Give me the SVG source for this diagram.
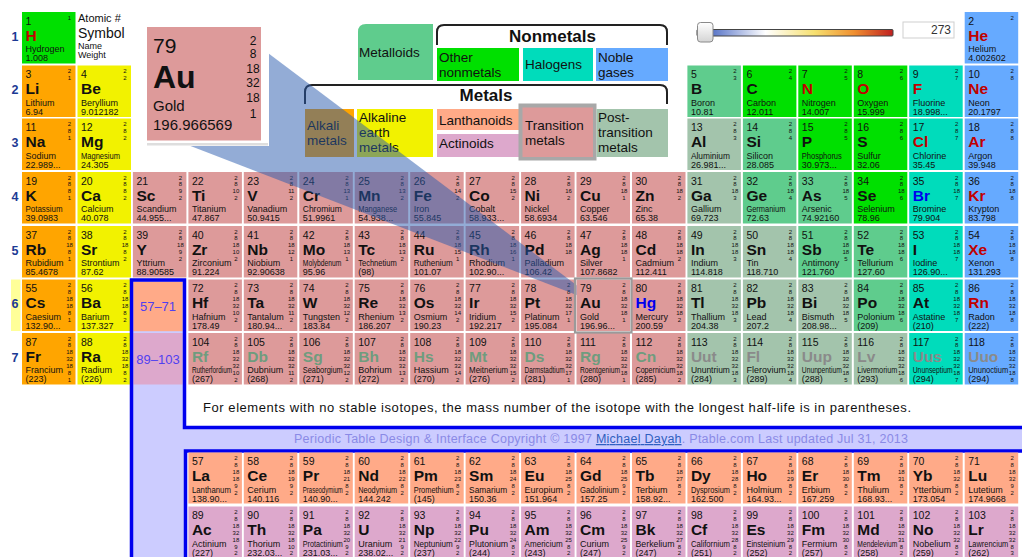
<svg xmlns="http://www.w3.org/2000/svg" width="1022" height="557" viewBox="0 0 1022 557">
<style>
text{font-family:"Liberation Sans",Arial,Helvetica,sans-serif;fill:#111}
.n{font-size:10.5px}
.s{font-size:15.5px;font-weight:bold}
.m,.w{font-size:9px}
.sh{font-size:6px;text-anchor:middle}
.am{fill:#ffa500}.ae{fill:#f2f200}.tm{fill:#dd9a9a}.pt{fill:#a3c4ac}.ml{fill:#5fcc8d}.nm{fill:#00e000}.hl{fill:#00dcbb}.ng{fill:#66aaff}.ln{fill:#ffaa88}.ac{fill:#dda8cc}
text.g{fill:#c00000}text.l{fill:#0000ee}text.u{fill:#6f9c7e}text.v{fill:#8a8a8a}
.lg{font-size:13.5px}
.hd{font-size:17px;font-weight:bold}
.rn{font-size:12.5px;font-weight:bold;fill:#1c3a94;text-anchor:middle}
.br{fill:none;stroke:#222;stroke-width:2}
.bl{fill:none;stroke:#0000ee;stroke-width:3.5}
.rg{font-size:13px;fill:#5040f0;text-anchor:middle}
</style>
<defs>
<linearGradient id="trk" x1="0" x2="1" y1="0" y2="0">
<stop offset="0" stop-color="#2a4db0"/><stop offset="0.1" stop-color="#6680cc"/><stop offset="0.35" stop-color="#ffffff"/><stop offset="0.6" stop-color="#f6e070"/><stop offset="0.8" stop-color="#f09030"/><stop offset="1" stop-color="#c02020"/>
</linearGradient>
<linearGradient id="knb" x1="0" x2="0" y1="0" y2="1"><stop offset="0" stop-color="#ffffff"/><stop offset="1" stop-color="#d4d4d4"/></linearGradient>
</defs>
<rect width="1022" height="557" fill="#fff"/>

<g id="row-labels">
<rect x="11" y="279.5" width="9.5" height="51.5" fill="#ffff99"/>
<text class="rn" x="15" y="40.5">1</text>
<text class="rn" x="15" y="94">2</text>
<text class="rn" x="15" y="147">3</text>
<text class="rn" x="15" y="200.5">4</text>
<text class="rn" x="15" y="254.5">5</text>
<text class="rn" x="15" y="308">6</text>
<text class="rn" x="15" y="361.5">7</text>
</g>

<g id="key">
<text x="78" y="21.5" style="font-size:11px">Atomic #</text>
<text x="78" y="37.5" style="font-size:14px">Symbol</text>
<text x="78" y="48.5" style="font-size:9px">Name</text>
<text x="78" y="58" style="font-size:9px">Weight</text>
</g>

<g id="legend">
<path class="ml" d="M366,24H433V80H358V32Q358,24 366,24Z"/>
<text class="lg" x="359" y="56.5">Metalloids</text>
<path class="br" d="M437,45V32Q437,25 444,25H660Q667,25 667,32V45"/>
<text class="hd" x="552.5" y="41.5" text-anchor="middle">Nonmetals</text>
<rect class="nm" x="437" y="48" width="82" height="33"/>
<text class="lg" x="439" y="61.5">Other</text><text class="lg" x="439" y="76.5">nonmetals</text>
<rect class="hl" x="523" y="48" width="70" height="33"/>
<text class="lg" x="525" y="68.5">Halogens</text>
<rect class="ng" x="596" y="48" width="72" height="33"/>
<text class="lg" x="598" y="61.5">Noble</text><text class="lg" x="598" y="76.5">gases</text>
<path class="br" d="M305,104V92Q305,85 312,85H660Q667,85 667,92V104"/>
<text class="hd" x="486" y="101" text-anchor="middle">Metals</text>
<rect class="am" x="305" y="109" width="49" height="48"/>
<text class="lg" x="307" y="130">Alkali</text><text class="lg" x="307" y="145">metals</text>
<rect class="ae" x="357" y="109" width="76" height="48"/>
<text class="lg" x="359" y="121.5">Alkaline</text><text class="lg" x="359" y="136.5">earth</text><text class="lg" x="359" y="151.5">metals</text>
<rect class="ln" x="437" y="109" width="82" height="21"/>
<text class="lg" x="439" y="125">Lanthanoids</text>
<rect class="ac" x="437" y="134" width="82" height="23"/>
<text class="lg" x="439" y="148">Actinoids</text>
<rect x="518.5" y="103.5" width="78" height="57" fill="#a8a8a8"/>
<rect class="tm" x="522.5" y="107.5" width="70.5" height="49.5"/>
<text class="lg" x="525" y="130">Transition</text><text class="lg" x="525" y="145">metals</text>
<rect class="pt" x="596.5" y="109" width="71.5" height="48"/>
<text class="lg" x="598" y="121.5">Post-</text><text class="lg" x="598" y="136.5">transition</text><text class="lg" x="598" y="151.5">metals</text>
</g>

<g id="slider">
<rect x="697" y="29.5" width="196" height="6.5" rx="1" fill="url(#trk)" stroke="#444" stroke-width="1"/>
<rect x="697.5" y="22.5" width="15.5" height="19.5" rx="3" fill="url(#knb)" stroke="#8a8a8a" stroke-width="1"/>
<rect x="903" y="22" width="51" height="16" fill="#fff" stroke="#cfcfcf" stroke-width="1"/>
<text x="951" y="34" text-anchor="end" style="font-size:12px;fill:#333">273</text>
</g>

<g id="elements">
<g id="e1" transform="translate(22,12)"><rect class="nm" width="53.5" height="51.5"/><text class="n" x="3.5" y="12.5">1</text><text class="s g" x="3.5" y="28.5">H</text><text class="m" x="3.5" y="40">Hydrogen</text><text class="w" x="3.5" y="49">1.008</text><text class="sh" x="47.5" y="7.5">1</text></g>
<g id="e2" transform="translate(964.7,12)"><rect class="ng" width="53.5" height="51.5"/><text class="n" x="3.5" y="12.5">2</text><text class="s g" x="3.5" y="28.5">He</text><text class="m" x="3.5" y="40">Helium</text><text class="w" x="3.5" y="49">4.002602</text><text class="sh" x="47.5" y="7.5">2</text></g>

<g id="e3" transform="translate(22,65.5)"><rect class="am" width="53.5" height="51.5"/><text class="n" x="3.5" y="12.5">3</text><text class="s" x="3.5" y="28.5">Li</text><text class="m" x="3.5" y="40">Lithium</text><text class="w" x="3.5" y="49">6.94</text><text class="sh" x="47.5" y="7.5">2<tspan x="47.5" dy="6.9">1</tspan></text></g>
<g id="e4" transform="translate(77.5,65.5)"><rect class="ae" width="53.5" height="51.5"/><text class="n" x="3.5" y="12.5">4</text><text class="s" x="3.5" y="28.5">Be</text><text class="m" x="3.5" y="40">Beryllium</text><text class="w" x="3.5" y="49">9.012182</text><text class="sh" x="47.5" y="7.5">2<tspan x="47.5" dy="6.9">2</tspan></text></g>
<g id="e5" transform="translate(687.4,65.5)"><rect class="ml" width="53.5" height="51.5"/><text class="n" x="3.5" y="12.5">5</text><text class="s" x="3.5" y="28.5">B</text><text class="m" x="3.5" y="40">Boron</text><text class="w" x="3.5" y="49">10.81</text><text class="sh" x="47.5" y="7.5">2<tspan x="47.5" dy="6.9">3</tspan></text></g>
<g id="e6" transform="translate(742.9,65.5)"><rect class="nm" width="53.5" height="51.5"/><text class="n" x="3.5" y="12.5">6</text><text class="s" x="3.5" y="28.5">C</text><text class="m" x="3.5" y="40">Carbon</text><text class="w" x="3.5" y="49">12.011</text><text class="sh" x="47.5" y="7.5">2<tspan x="47.5" dy="6.9">4</tspan></text></g>
<g id="e7" transform="translate(798.3,65.5)"><rect class="nm" width="53.5" height="51.5"/><text class="n" x="3.5" y="12.5">7</text><text class="s g" x="3.5" y="28.5">N</text><text class="m" x="3.5" y="40">Nitrogen</text><text class="w" x="3.5" y="49">14.007</text><text class="sh" x="47.5" y="7.5">2<tspan x="47.5" dy="6.9">5</tspan></text></g>
<g id="e8" transform="translate(853.8,65.5)"><rect class="nm" width="53.5" height="51.5"/><text class="n" x="3.5" y="12.5">8</text><text class="s g" x="3.5" y="28.5">O</text><text class="m" x="3.5" y="40">Oxygen</text><text class="w" x="3.5" y="49">15.999</text><text class="sh" x="47.5" y="7.5">2<tspan x="47.5" dy="6.9">6</tspan></text></g>
<g id="e9" transform="translate(909.2,65.5)"><rect class="hl" width="53.5" height="51.5"/><text class="n" x="3.5" y="12.5">9</text><text class="s g" x="3.5" y="28.5">F</text><text class="m" x="3.5" y="40">Fluorine</text><text class="w" x="3.5" y="49">18.998...</text><text class="sh" x="47.5" y="7.5">2<tspan x="47.5" dy="6.9">7</tspan></text></g>
<g id="e10" transform="translate(964.7,65.5)"><rect class="ng" width="53.5" height="51.5"/><text class="n" x="3.5" y="12.5">10</text><text class="s g" x="3.5" y="28.5">Ne</text><text class="m" x="3.5" y="40">Neon</text><text class="w" x="3.5" y="49">20.1797</text><text class="sh" x="47.5" y="7.5">2<tspan x="47.5" dy="6.9">8</tspan></text></g>

<g id="e11" transform="translate(22,118.5)"><rect class="am" width="53.5" height="51.5"/><text class="n" x="3.5" y="12.5">11</text><text class="s" x="3.5" y="28.5">Na</text><text class="m" x="3.5" y="40">Sodium</text><text class="w" x="3.5" y="49">22.989...</text><text class="sh" x="47.5" y="7.5">2<tspan x="47.5" dy="6.9">8</tspan><tspan x="47.5" dy="6.9">1</tspan></text></g>
<g id="e12" transform="translate(77.5,118.5)"><rect class="ae" width="53.5" height="51.5"/><text class="n" x="3.5" y="12.5">12</text><text class="s" x="3.5" y="28.5">Mg</text><text class="m" x="3.5" y="40" textLength="39" lengthAdjust="spacingAndGlyphs">Magnesium</text><text class="w" x="3.5" y="49">24.305</text><text class="sh" x="47.5" y="7.5">2<tspan x="47.5" dy="6.9">8</tspan><tspan x="47.5" dy="6.9">2</tspan></text></g>
<g id="e13" transform="translate(687.4,118.5)"><rect class="pt" width="53.5" height="51.5"/><text class="n" x="3.5" y="12.5">13</text><text class="s" x="3.5" y="28.5">Al</text><text class="m" x="3.5" y="40" textLength="39" lengthAdjust="spacingAndGlyphs">Aluminium</text><text class="w" x="3.5" y="49">26.981...</text><text class="sh" x="47.5" y="7.5">2<tspan x="47.5" dy="6.9">8</tspan><tspan x="47.5" dy="6.9">3</tspan></text></g>
<g id="e14" transform="translate(742.9,118.5)"><rect class="ml" width="53.5" height="51.5"/><text class="n" x="3.5" y="12.5">14</text><text class="s" x="3.5" y="28.5">Si</text><text class="m" x="3.5" y="40">Silicon</text><text class="w" x="3.5" y="49">28.085</text><text class="sh" x="47.5" y="7.5">2<tspan x="47.5" dy="6.9">8</tspan><tspan x="47.5" dy="6.9">4</tspan></text></g>
<g id="e15" transform="translate(798.3,118.5)"><rect class="nm" width="53.5" height="51.5"/><text class="n" x="3.5" y="12.5">15</text><text class="s" x="3.5" y="28.5">P</text><text class="m" x="3.5" y="40" textLength="40" lengthAdjust="spacingAndGlyphs">Phosphorus</text><text class="w" x="3.5" y="49">30.973...</text><text class="sh" x="47.5" y="7.5">2<tspan x="47.5" dy="6.9">8</tspan><tspan x="47.5" dy="6.9">5</tspan></text></g>
<g id="e16" transform="translate(853.8,118.5)"><rect class="nm" width="53.5" height="51.5"/><text class="n" x="3.5" y="12.5">16</text><text class="s" x="3.5" y="28.5">S</text><text class="m" x="3.5" y="40">Sulfur</text><text class="w" x="3.5" y="49">32.06</text><text class="sh" x="47.5" y="7.5">2<tspan x="47.5" dy="6.9">8</tspan><tspan x="47.5" dy="6.9">6</tspan></text></g>
<g id="e17" transform="translate(909.2,118.5)"><rect class="hl" width="53.5" height="51.5"/><text class="n" x="3.5" y="12.5">17</text><text class="s g" x="3.5" y="28.5">Cl</text><text class="m" x="3.5" y="40">Chlorine</text><text class="w" x="3.5" y="49">35.45</text><text class="sh" x="47.5" y="7.5">2<tspan x="47.5" dy="6.9">8</tspan><tspan x="47.5" dy="6.9">7</tspan></text></g>
<g id="e18" transform="translate(964.7,118.5)"><rect class="ng" width="53.5" height="51.5"/><text class="n" x="3.5" y="12.5">18</text><text class="s g" x="3.5" y="28.5">Ar</text><text class="m" x="3.5" y="40">Argon</text><text class="w" x="3.5" y="49">39.948</text><text class="sh" x="47.5" y="7.5">2<tspan x="47.5" dy="6.9">8</tspan><tspan x="47.5" dy="6.9">8</tspan></text></g>

<g id="e19" transform="translate(22,172)"><rect class="am" width="53.5" height="51.5"/><text class="n" x="3.5" y="12.5">19</text><text class="s" x="3.5" y="28.5">K</text><text class="m" x="3.5" y="40" textLength="37" lengthAdjust="spacingAndGlyphs">Potassium</text><text class="w" x="3.5" y="49">39.0983</text><text class="sh" x="47.5" y="7.5">2<tspan x="47.5" dy="6.9">8</tspan><tspan x="47.5" dy="6.9">8</tspan><tspan x="47.5" dy="6.9">1</tspan></text></g>
<g id="e20" transform="translate(77.5,172)"><rect class="ae" width="53.5" height="51.5"/><text class="n" x="3.5" y="12.5">20</text><text class="s" x="3.5" y="28.5">Ca</text><text class="m" x="3.5" y="40">Calcium</text><text class="w" x="3.5" y="49">40.078</text><text class="sh" x="47.5" y="7.5">2<tspan x="47.5" dy="6.9">8</tspan><tspan x="47.5" dy="6.9">8</tspan><tspan x="47.5" dy="6.9">2</tspan></text></g>
<g id="e21" transform="translate(132.9,172)"><rect class="tm" width="53.5" height="51.5"/><text class="n" x="3.5" y="12.5">21</text><text class="s" x="3.5" y="28.5">Sc</text><text class="m" x="3.5" y="40">Scandium</text><text class="w" x="3.5" y="49">44.955...</text><text class="sh" x="47.5" y="7.5">2<tspan x="47.5" dy="6.9">8</tspan><tspan x="47.5" dy="6.9">9</tspan><tspan x="47.5" dy="6.9">2</tspan></text></g>
<g id="e22" transform="translate(188.4,172)"><rect class="tm" width="53.5" height="51.5"/><text class="n" x="3.5" y="12.5">22</text><text class="s" x="3.5" y="28.5">Ti</text><text class="m" x="3.5" y="40">Titanium</text><text class="w" x="3.5" y="49">47.867</text><text class="sh" x="47.5" y="7.5">2<tspan x="47.5" dy="6.9">8</tspan><tspan x="47.5" dy="6.9">10</tspan><tspan x="47.5" dy="6.9">2</tspan></text></g>
<g id="e23" transform="translate(243.8,172)"><rect class="tm" width="53.5" height="51.5"/><text class="n" x="3.5" y="12.5">23</text><text class="s" x="3.5" y="28.5">V</text><text class="m" x="3.5" y="40">Vanadium</text><text class="w" x="3.5" y="49">50.9415</text><text class="sh" x="47.5" y="7.5">2<tspan x="47.5" dy="6.9">8</tspan><tspan x="47.5" dy="6.9">11</tspan><tspan x="47.5" dy="6.9">2</tspan></text></g>
<g id="e24" transform="translate(299.3,172)"><rect class="tm" width="53.5" height="51.5"/><text class="n" x="3.5" y="12.5">24</text><text class="s" x="3.5" y="28.5">Cr</text><text class="m" x="3.5" y="40" textLength="39" lengthAdjust="spacingAndGlyphs">Chromium</text><text class="w" x="3.5" y="49">51.9961</text><text class="sh" x="47.5" y="7.5">2<tspan x="47.5" dy="6.9">8</tspan><tspan x="47.5" dy="6.9">13</tspan><tspan x="47.5" dy="6.9">1</tspan></text></g>
<g id="e25" transform="translate(354.7,172)"><rect class="tm" width="53.5" height="51.5"/><text class="n" x="3.5" y="12.5">25</text><text class="s" x="3.5" y="28.5">Mn</text><text class="m" x="3.5" y="40" textLength="39" lengthAdjust="spacingAndGlyphs">Manganese</text><text class="w" x="3.5" y="49">54.938...</text><text class="sh" x="47.5" y="7.5">2<tspan x="47.5" dy="6.9">8</tspan><tspan x="47.5" dy="6.9">13</tspan><tspan x="47.5" dy="6.9">2</tspan></text></g>
<g id="e26" transform="translate(410.2,172)"><rect class="tm" width="53.5" height="51.5"/><text class="n" x="3.5" y="12.5">26</text><text class="s" x="3.5" y="28.5">Fe</text><text class="m" x="3.5" y="40">Iron</text><text class="w" x="3.5" y="49">55.845</text><text class="sh" x="47.5" y="7.5">2<tspan x="47.5" dy="6.9">8</tspan><tspan x="47.5" dy="6.9">14</tspan><tspan x="47.5" dy="6.9">2</tspan></text></g>
<g id="e27" transform="translate(465.6,172)"><rect class="tm" width="53.5" height="51.5"/><text class="n" x="3.5" y="12.5">27</text><text class="s" x="3.5" y="28.5">Co</text><text class="m" x="3.5" y="40">Cobalt</text><text class="w" x="3.5" y="49">58.933...</text><text class="sh" x="47.5" y="7.5">2<tspan x="47.5" dy="6.9">8</tspan><tspan x="47.5" dy="6.9">15</tspan><tspan x="47.5" dy="6.9">2</tspan></text></g>
<g id="e28" transform="translate(521.1,172)"><rect class="tm" width="53.5" height="51.5"/><text class="n" x="3.5" y="12.5">28</text><text class="s" x="3.5" y="28.5">Ni</text><text class="m" x="3.5" y="40">Nickel</text><text class="w" x="3.5" y="49">58.6934</text><text class="sh" x="47.5" y="7.5">2<tspan x="47.5" dy="6.9">8</tspan><tspan x="47.5" dy="6.9">16</tspan><tspan x="47.5" dy="6.9">2</tspan></text></g>
<g id="e29" transform="translate(576.5,172)"><rect class="tm" width="53.5" height="51.5"/><text class="n" x="3.5" y="12.5">29</text><text class="s" x="3.5" y="28.5">Cu</text><text class="m" x="3.5" y="40">Copper</text><text class="w" x="3.5" y="49">63.546</text><text class="sh" x="47.5" y="7.5">2<tspan x="47.5" dy="6.9">8</tspan><tspan x="47.5" dy="6.9">18</tspan><tspan x="47.5" dy="6.9">1</tspan></text></g>
<g id="e30" transform="translate(632,172)"><rect class="tm" width="53.5" height="51.5"/><text class="n" x="3.5" y="12.5">30</text><text class="s" x="3.5" y="28.5">Zn</text><text class="m" x="3.5" y="40">Zinc</text><text class="w" x="3.5" y="49">65.38</text><text class="sh" x="47.5" y="7.5">2<tspan x="47.5" dy="6.9">8</tspan><tspan x="47.5" dy="6.9">18</tspan><tspan x="47.5" dy="6.9">2</tspan></text></g>
<g id="e31" transform="translate(687.4,172)"><rect class="pt" width="53.5" height="51.5"/><text class="n" x="3.5" y="12.5">31</text><text class="s" x="3.5" y="28.5">Ga</text><text class="m" x="3.5" y="40">Gallium</text><text class="w" x="3.5" y="49">69.723</text><text class="sh" x="47.5" y="7.5">2<tspan x="47.5" dy="6.9">8</tspan><tspan x="47.5" dy="6.9">18</tspan><tspan x="47.5" dy="6.9">3</tspan></text></g>
<g id="e32" transform="translate(742.9,172)"><rect class="ml" width="53.5" height="51.5"/><text class="n" x="3.5" y="12.5">32</text><text class="s" x="3.5" y="28.5">Ge</text><text class="m" x="3.5" y="40" textLength="39" lengthAdjust="spacingAndGlyphs">Germanium</text><text class="w" x="3.5" y="49">72.63</text><text class="sh" x="47.5" y="7.5">2<tspan x="47.5" dy="6.9">8</tspan><tspan x="47.5" dy="6.9">18</tspan><tspan x="47.5" dy="6.9">4</tspan></text></g>
<g id="e33" transform="translate(798.3,172)"><rect class="ml" width="53.5" height="51.5"/><text class="n" x="3.5" y="12.5">33</text><text class="s" x="3.5" y="28.5">As</text><text class="m" x="3.5" y="40">Arsenic</text><text class="w" x="3.5" y="49">74.92160</text><text class="sh" x="47.5" y="7.5">2<tspan x="47.5" dy="6.9">8</tspan><tspan x="47.5" dy="6.9">18</tspan><tspan x="47.5" dy="6.9">5</tspan></text></g>
<g id="e34" transform="translate(853.8,172)"><rect class="nm" width="53.5" height="51.5"/><text class="n" x="3.5" y="12.5">34</text><text class="s" x="3.5" y="28.5">Se</text><text class="m" x="3.5" y="40">Selenium</text><text class="w" x="3.5" y="49">78.96</text><text class="sh" x="47.5" y="7.5">2<tspan x="47.5" dy="6.9">8</tspan><tspan x="47.5" dy="6.9">18</tspan><tspan x="47.5" dy="6.9">6</tspan></text></g>
<g id="e35" transform="translate(909.2,172)"><rect class="hl" width="53.5" height="51.5"/><text class="n" x="3.5" y="12.5">35</text><text class="s l" x="3.5" y="28.5">Br</text><text class="m" x="3.5" y="40">Bromine</text><text class="w" x="3.5" y="49">79.904</text><text class="sh" x="47.5" y="7.5">2<tspan x="47.5" dy="6.9">8</tspan><tspan x="47.5" dy="6.9">18</tspan><tspan x="47.5" dy="6.9">7</tspan></text></g>
<g id="e36" transform="translate(964.7,172)"><rect class="ng" width="53.5" height="51.5"/><text class="n" x="3.5" y="12.5">36</text><text class="s g" x="3.5" y="28.5">Kr</text><text class="m" x="3.5" y="40">Krypton</text><text class="w" x="3.5" y="49">83.798</text><text class="sh" x="47.5" y="7.5">2<tspan x="47.5" dy="6.9">8</tspan><tspan x="47.5" dy="6.9">18</tspan><tspan x="47.5" dy="6.9">8</tspan></text></g>

<g id="e37" transform="translate(22,226)"><rect class="am" width="53.5" height="51.5"/><text class="n" x="3.5" y="12.5">37</text><text class="s" x="3.5" y="28.5">Rb</text><text class="m" x="3.5" y="40">Rubidium</text><text class="w" x="3.5" y="49">85.4678</text><text class="sh" x="47.5" y="7.5">2<tspan x="47.5" dy="6.9">8</tspan><tspan x="47.5" dy="6.9">18</tspan><tspan x="47.5" dy="6.9">8</tspan><tspan x="47.5" dy="6.9">1</tspan></text></g>
<g id="e38" transform="translate(77.5,226)"><rect class="ae" width="53.5" height="51.5"/><text class="n" x="3.5" y="12.5">38</text><text class="s" x="3.5" y="28.5">Sr</text><text class="m" x="3.5" y="40">Strontium</text><text class="w" x="3.5" y="49">87.62</text><text class="sh" x="47.5" y="7.5">2<tspan x="47.5" dy="6.9">8</tspan><tspan x="47.5" dy="6.9">18</tspan><tspan x="47.5" dy="6.9">8</tspan><tspan x="47.5" dy="6.9">2</tspan></text></g>
<g id="e39" transform="translate(132.9,226)"><rect class="tm" width="53.5" height="51.5"/><text class="n" x="3.5" y="12.5">39</text><text class="s" x="3.5" y="28.5">Y</text><text class="m" x="3.5" y="40">Yttrium</text><text class="w" x="3.5" y="49">88.90585</text><text class="sh" x="47.5" y="7.5">2<tspan x="47.5" dy="6.9">8</tspan><tspan x="47.5" dy="6.9">18</tspan><tspan x="47.5" dy="6.9">9</tspan><tspan x="47.5" dy="6.9">2</tspan></text></g>
<g id="e40" transform="translate(188.4,226)"><rect class="tm" width="53.5" height="51.5"/><text class="n" x="3.5" y="12.5">40</text><text class="s" x="3.5" y="28.5">Zr</text><text class="m" x="3.5" y="40">Zirconium</text><text class="w" x="3.5" y="49">91.224</text><text class="sh" x="47.5" y="7.5">2<tspan x="47.5" dy="6.9">8</tspan><tspan x="47.5" dy="6.9">18</tspan><tspan x="47.5" dy="6.9">10</tspan><tspan x="47.5" dy="6.9">2</tspan></text></g>
<g id="e41" transform="translate(243.8,226)"><rect class="tm" width="53.5" height="51.5"/><text class="n" x="3.5" y="12.5">41</text><text class="s" x="3.5" y="28.5">Nb</text><text class="m" x="3.5" y="40">Niobium</text><text class="w" x="3.5" y="49">92.90638</text><text class="sh" x="47.5" y="7.5">2<tspan x="47.5" dy="6.9">8</tspan><tspan x="47.5" dy="6.9">18</tspan><tspan x="47.5" dy="6.9">12</tspan><tspan x="47.5" dy="6.9">1</tspan></text></g>
<g id="e42" transform="translate(299.3,226)"><rect class="tm" width="53.5" height="51.5"/><text class="n" x="3.5" y="12.5">42</text><text class="s" x="3.5" y="28.5">Mo</text><text class="m" x="3.5" y="40" textLength="38.5" lengthAdjust="spacingAndGlyphs">Molybdenum</text><text class="w" x="3.5" y="49">95.96</text><text class="sh" x="47.5" y="7.5">2<tspan x="47.5" dy="6.9">8</tspan><tspan x="47.5" dy="6.9">18</tspan><tspan x="47.5" dy="6.9">13</tspan><tspan x="47.5" dy="6.9">1</tspan></text></g>
<g id="e43" transform="translate(354.7,226)"><rect class="tm" width="53.5" height="51.5"/><text class="n" x="3.5" y="12.5">43</text><text class="s" x="3.5" y="28.5">Tc</text><text class="m" x="3.5" y="40" textLength="38.5" lengthAdjust="spacingAndGlyphs">Technetium</text><text class="w" x="3.5" y="49">(98)</text><text class="sh" x="47.5" y="7.5">2<tspan x="47.5" dy="6.9">8</tspan><tspan x="47.5" dy="6.9">18</tspan><tspan x="47.5" dy="6.9">13</tspan><tspan x="47.5" dy="6.9">2</tspan></text></g>
<g id="e44" transform="translate(410.2,226)"><rect class="tm" width="53.5" height="51.5"/><text class="n" x="3.5" y="12.5">44</text><text class="s" x="3.5" y="28.5">Ru</text><text class="m" x="3.5" y="40" textLength="39" lengthAdjust="spacingAndGlyphs">Ruthenium</text><text class="w" x="3.5" y="49">101.07</text><text class="sh" x="47.5" y="7.5">2<tspan x="47.5" dy="6.9">8</tspan><tspan x="47.5" dy="6.9">18</tspan><tspan x="47.5" dy="6.9">15</tspan><tspan x="47.5" dy="6.9">1</tspan></text></g>
<g id="e45" transform="translate(465.6,226)"><rect class="tm" width="53.5" height="51.5"/><text class="n" x="3.5" y="12.5">45</text><text class="s" x="3.5" y="28.5">Rh</text><text class="m" x="3.5" y="40">Rhodium</text><text class="w" x="3.5" y="49">102.90...</text><text class="sh" x="47.5" y="7.5">2<tspan x="47.5" dy="6.9">8</tspan><tspan x="47.5" dy="6.9">18</tspan><tspan x="47.5" dy="6.9">16</tspan><tspan x="47.5" dy="6.9">1</tspan></text></g>
<g id="e46" transform="translate(521.1,226)"><rect class="tm" width="53.5" height="51.5"/><text class="n" x="3.5" y="12.5">46</text><text class="s" x="3.5" y="28.5">Pd</text><text class="m" x="3.5" y="40">Palladium</text><text class="w" x="3.5" y="49">106.42</text><text class="sh" x="47.5" y="7.5">2<tspan x="47.5" dy="6.9">8</tspan><tspan x="47.5" dy="6.9">18</tspan><tspan x="47.5" dy="6.9">18</tspan></text></g>
<g id="e47" transform="translate(576.5,226)"><rect class="tm" width="53.5" height="51.5"/><text class="n" x="3.5" y="12.5">47</text><text class="s" x="3.5" y="28.5">Ag</text><text class="m" x="3.5" y="40">Silver</text><text class="w" x="3.5" y="49">107.8682</text><text class="sh" x="47.5" y="7.5">2<tspan x="47.5" dy="6.9">8</tspan><tspan x="47.5" dy="6.9">18</tspan><tspan x="47.5" dy="6.9">18</tspan><tspan x="47.5" dy="6.9">1</tspan></text></g>
<g id="e48" transform="translate(632,226)"><rect class="tm" width="53.5" height="51.5"/><text class="n" x="3.5" y="12.5">48</text><text class="s" x="3.5" y="28.5">Cd</text><text class="m" x="3.5" y="40">Cadmium</text><text class="w" x="3.5" y="49">112.411</text><text class="sh" x="47.5" y="7.5">2<tspan x="47.5" dy="6.9">8</tspan><tspan x="47.5" dy="6.9">18</tspan><tspan x="47.5" dy="6.9">18</tspan><tspan x="47.5" dy="6.9">2</tspan></text></g>
<g id="e49" transform="translate(687.4,226)"><rect class="pt" width="53.5" height="51.5"/><text class="n" x="3.5" y="12.5">49</text><text class="s" x="3.5" y="28.5">In</text><text class="m" x="3.5" y="40">Indium</text><text class="w" x="3.5" y="49">114.818</text><text class="sh" x="47.5" y="7.5">2<tspan x="47.5" dy="6.9">8</tspan><tspan x="47.5" dy="6.9">18</tspan><tspan x="47.5" dy="6.9">18</tspan><tspan x="47.5" dy="6.9">3</tspan></text></g>
<g id="e50" transform="translate(742.9,226)"><rect class="pt" width="53.5" height="51.5"/><text class="n" x="3.5" y="12.5">50</text><text class="s" x="3.5" y="28.5">Sn</text><text class="m" x="3.5" y="40">Tin</text><text class="w" x="3.5" y="49">118.710</text><text class="sh" x="47.5" y="7.5">2<tspan x="47.5" dy="6.9">8</tspan><tspan x="47.5" dy="6.9">18</tspan><tspan x="47.5" dy="6.9">18</tspan><tspan x="47.5" dy="6.9">4</tspan></text></g>
<g id="e51" transform="translate(798.3,226)"><rect class="ml" width="53.5" height="51.5"/><text class="n" x="3.5" y="12.5">51</text><text class="s" x="3.5" y="28.5">Sb</text><text class="m" x="3.5" y="40">Antimony</text><text class="w" x="3.5" y="49">121.760</text><text class="sh" x="47.5" y="7.5">2<tspan x="47.5" dy="6.9">8</tspan><tspan x="47.5" dy="6.9">18</tspan><tspan x="47.5" dy="6.9">18</tspan><tspan x="47.5" dy="6.9">5</tspan></text></g>
<g id="e52" transform="translate(853.8,226)"><rect class="ml" width="53.5" height="51.5"/><text class="n" x="3.5" y="12.5">52</text><text class="s" x="3.5" y="28.5">Te</text><text class="m" x="3.5" y="40">Tellurium</text><text class="w" x="3.5" y="49">127.60</text><text class="sh" x="47.5" y="7.5">2<tspan x="47.5" dy="6.9">8</tspan><tspan x="47.5" dy="6.9">18</tspan><tspan x="47.5" dy="6.9">18</tspan><tspan x="47.5" dy="6.9">6</tspan></text></g>
<g id="e53" transform="translate(909.2,226)"><rect class="hl" width="53.5" height="51.5"/><text class="n" x="3.5" y="12.5">53</text><text class="s" x="3.5" y="28.5">I</text><text class="m" x="3.5" y="40">Iodine</text><text class="w" x="3.5" y="49">126.90...</text><text class="sh" x="47.5" y="7.5">2<tspan x="47.5" dy="6.9">8</tspan><tspan x="47.5" dy="6.9">18</tspan><tspan x="47.5" dy="6.9">18</tspan><tspan x="47.5" dy="6.9">7</tspan></text></g>
<g id="e54" transform="translate(964.7,226)"><rect class="ng" width="53.5" height="51.5"/><text class="n" x="3.5" y="12.5">54</text><text class="s g" x="3.5" y="28.5">Xe</text><text class="m" x="3.5" y="40">Xenon</text><text class="w" x="3.5" y="49">131.293</text><text class="sh" x="47.5" y="7.5">2<tspan x="47.5" dy="6.9">8</tspan><tspan x="47.5" dy="6.9">18</tspan><tspan x="47.5" dy="6.9">18</tspan><tspan x="47.5" dy="6.9">8</tspan></text></g>

<g id="e55" transform="translate(22,279.5)"><rect class="am" width="53.5" height="51.5"/><text class="n" x="3.5" y="12.5">55</text><text class="s" x="3.5" y="28.5">Cs</text><text class="m" x="3.5" y="40">Caesium</text><text class="w" x="3.5" y="49">132.90...</text><text class="sh" x="47.5" y="7.5">2<tspan x="47.5" dy="6.9">8</tspan><tspan x="47.5" dy="6.9">18</tspan><tspan x="47.5" dy="6.9">18</tspan><tspan x="47.5" dy="6.9">8</tspan><tspan x="47.5" dy="6.9">1</tspan></text></g>
<g id="e56" transform="translate(77.5,279.5)"><rect class="ae" width="53.5" height="51.5"/><text class="n" x="3.5" y="12.5">56</text><text class="s" x="3.5" y="28.5">Ba</text><text class="m" x="3.5" y="40">Barium</text><text class="w" x="3.5" y="49">137.327</text><text class="sh" x="47.5" y="7.5">2<tspan x="47.5" dy="6.9">8</tspan><tspan x="47.5" dy="6.9">18</tspan><tspan x="47.5" dy="6.9">18</tspan><tspan x="47.5" dy="6.9">8</tspan><tspan x="47.5" dy="6.9">2</tspan></text></g>
<g id="e72" transform="translate(188.4,279.5)"><rect class="tm" width="53.5" height="51.5"/><text class="n" x="3.5" y="12.5">72</text><text class="s" x="3.5" y="28.5">Hf</text><text class="m" x="3.5" y="40">Hafnium</text><text class="w" x="3.5" y="49">178.49</text><text class="sh" x="47.5" y="7.5">2<tspan x="47.5" dy="6.9">8</tspan><tspan x="47.5" dy="6.9">18</tspan><tspan x="47.5" dy="6.9">32</tspan><tspan x="47.5" dy="6.9">10</tspan><tspan x="47.5" dy="6.9">2</tspan></text></g>
<g id="e73" transform="translate(243.8,279.5)"><rect class="tm" width="53.5" height="51.5"/><text class="n" x="3.5" y="12.5">73</text><text class="s" x="3.5" y="28.5">Ta</text><text class="m" x="3.5" y="40">Tantalum</text><text class="w" x="3.5" y="49">180.94...</text><text class="sh" x="47.5" y="7.5">2<tspan x="47.5" dy="6.9">8</tspan><tspan x="47.5" dy="6.9">18</tspan><tspan x="47.5" dy="6.9">32</tspan><tspan x="47.5" dy="6.9">11</tspan><tspan x="47.5" dy="6.9">2</tspan></text></g>
<g id="e74" transform="translate(299.3,279.5)"><rect class="tm" width="53.5" height="51.5"/><text class="n" x="3.5" y="12.5">74</text><text class="s" x="3.5" y="28.5">W</text><text class="m" x="3.5" y="40">Tungsten</text><text class="w" x="3.5" y="49">183.84</text><text class="sh" x="47.5" y="7.5">2<tspan x="47.5" dy="6.9">8</tspan><tspan x="47.5" dy="6.9">18</tspan><tspan x="47.5" dy="6.9">32</tspan><tspan x="47.5" dy="6.9">12</tspan><tspan x="47.5" dy="6.9">2</tspan></text></g>
<g id="e75" transform="translate(354.7,279.5)"><rect class="tm" width="53.5" height="51.5"/><text class="n" x="3.5" y="12.5">75</text><text class="s" x="3.5" y="28.5">Re</text><text class="m" x="3.5" y="40">Rhenium</text><text class="w" x="3.5" y="49">186.207</text><text class="sh" x="47.5" y="7.5">2<tspan x="47.5" dy="6.9">8</tspan><tspan x="47.5" dy="6.9">18</tspan><tspan x="47.5" dy="6.9">32</tspan><tspan x="47.5" dy="6.9">13</tspan><tspan x="47.5" dy="6.9">2</tspan></text></g>
<g id="e76" transform="translate(410.2,279.5)"><rect class="tm" width="53.5" height="51.5"/><text class="n" x="3.5" y="12.5">76</text><text class="s" x="3.5" y="28.5">Os</text><text class="m" x="3.5" y="40">Osmium</text><text class="w" x="3.5" y="49">190.23</text><text class="sh" x="47.5" y="7.5">2<tspan x="47.5" dy="6.9">8</tspan><tspan x="47.5" dy="6.9">18</tspan><tspan x="47.5" dy="6.9">32</tspan><tspan x="47.5" dy="6.9">14</tspan><tspan x="47.5" dy="6.9">2</tspan></text></g>
<g id="e77" transform="translate(465.6,279.5)"><rect class="tm" width="53.5" height="51.5"/><text class="n" x="3.5" y="12.5">77</text><text class="s" x="3.5" y="28.5">Ir</text><text class="m" x="3.5" y="40">Iridium</text><text class="w" x="3.5" y="49">192.217</text><text class="sh" x="47.5" y="7.5">2<tspan x="47.5" dy="6.9">8</tspan><tspan x="47.5" dy="6.9">18</tspan><tspan x="47.5" dy="6.9">32</tspan><tspan x="47.5" dy="6.9">15</tspan><tspan x="47.5" dy="6.9">2</tspan></text></g>
<g id="e78" transform="translate(521.1,279.5)"><rect class="tm" width="53.5" height="51.5"/><text class="n" x="3.5" y="12.5">78</text><text class="s" x="3.5" y="28.5">Pt</text><text class="m" x="3.5" y="40">Platinum</text><text class="w" x="3.5" y="49">195.084</text><text class="sh" x="47.5" y="7.5">2<tspan x="47.5" dy="6.9">8</tspan><tspan x="47.5" dy="6.9">18</tspan><tspan x="47.5" dy="6.9">32</tspan><tspan x="47.5" dy="6.9">17</tspan><tspan x="47.5" dy="6.9">1</tspan></text></g>
<g id="e80" transform="translate(632,279.5)"><rect class="tm" width="53.5" height="51.5"/><text class="n" x="3.5" y="12.5">80</text><text class="s l" x="3.5" y="28.5">Hg</text><text class="m" x="3.5" y="40">Mercury</text><text class="w" x="3.5" y="49">200.59</text><text class="sh" x="47.5" y="7.5">2<tspan x="47.5" dy="6.9">8</tspan><tspan x="47.5" dy="6.9">18</tspan><tspan x="47.5" dy="6.9">32</tspan><tspan x="47.5" dy="6.9">18</tspan><tspan x="47.5" dy="6.9">2</tspan></text></g>
<g id="e81" transform="translate(687.4,279.5)"><rect class="pt" width="53.5" height="51.5"/><text class="n" x="3.5" y="12.5">81</text><text class="s" x="3.5" y="28.5">Tl</text><text class="m" x="3.5" y="40">Thallium</text><text class="w" x="3.5" y="49">204.38</text><text class="sh" x="47.5" y="7.5">2<tspan x="47.5" dy="6.9">8</tspan><tspan x="47.5" dy="6.9">18</tspan><tspan x="47.5" dy="6.9">32</tspan><tspan x="47.5" dy="6.9">18</tspan><tspan x="47.5" dy="6.9">3</tspan></text></g>
<g id="e82" transform="translate(742.9,279.5)"><rect class="pt" width="53.5" height="51.5"/><text class="n" x="3.5" y="12.5">82</text><text class="s" x="3.5" y="28.5">Pb</text><text class="m" x="3.5" y="40">Lead</text><text class="w" x="3.5" y="49">207.2</text><text class="sh" x="47.5" y="7.5">2<tspan x="47.5" dy="6.9">8</tspan><tspan x="47.5" dy="6.9">18</tspan><tspan x="47.5" dy="6.9">32</tspan><tspan x="47.5" dy="6.9">18</tspan><tspan x="47.5" dy="6.9">4</tspan></text></g>
<g id="e83" transform="translate(798.3,279.5)"><rect class="pt" width="53.5" height="51.5"/><text class="n" x="3.5" y="12.5">83</text><text class="s" x="3.5" y="28.5">Bi</text><text class="m" x="3.5" y="40">Bismuth</text><text class="w" x="3.5" y="49">208.98...</text><text class="sh" x="47.5" y="7.5">2<tspan x="47.5" dy="6.9">8</tspan><tspan x="47.5" dy="6.9">18</tspan><tspan x="47.5" dy="6.9">32</tspan><tspan x="47.5" dy="6.9">18</tspan><tspan x="47.5" dy="6.9">5</tspan></text></g>
<g id="e84" transform="translate(853.8,279.5)"><rect class="ml" width="53.5" height="51.5"/><text class="n" x="3.5" y="12.5">84</text><text class="s" x="3.5" y="28.5">Po</text><text class="m" x="3.5" y="40">Polonium</text><text class="w" x="3.5" y="49">(209)</text><text class="sh" x="47.5" y="7.5">2<tspan x="47.5" dy="6.9">8</tspan><tspan x="47.5" dy="6.9">18</tspan><tspan x="47.5" dy="6.9">32</tspan><tspan x="47.5" dy="6.9">18</tspan><tspan x="47.5" dy="6.9">6</tspan></text></g>
<g id="e85" transform="translate(909.2,279.5)"><rect class="hl" width="53.5" height="51.5"/><text class="n" x="3.5" y="12.5">85</text><text class="s" x="3.5" y="28.5">At</text><text class="m" x="3.5" y="40">Astatine</text><text class="w" x="3.5" y="49">(210)</text><text class="sh" x="47.5" y="7.5">2<tspan x="47.5" dy="6.9">8</tspan><tspan x="47.5" dy="6.9">18</tspan><tspan x="47.5" dy="6.9">32</tspan><tspan x="47.5" dy="6.9">18</tspan><tspan x="47.5" dy="6.9">7</tspan></text></g>
<g id="e86" transform="translate(964.7,279.5)"><rect class="ng" width="53.5" height="51.5"/><text class="n" x="3.5" y="12.5">86</text><text class="s g" x="3.5" y="28.5">Rn</text><text class="m" x="3.5" y="40">Radon</text><text class="w" x="3.5" y="49">(222)</text><text class="sh" x="47.5" y="7.5">2<tspan x="47.5" dy="6.9">8</tspan><tspan x="47.5" dy="6.9">18</tspan><tspan x="47.5" dy="6.9">32</tspan><tspan x="47.5" dy="6.9">18</tspan><tspan x="47.5" dy="6.9">8</tspan></text></g>

<g id="e87" transform="translate(22,333)"><rect class="am" width="53.5" height="51.5"/><text class="n" x="3.5" y="12.5">87</text><text class="s" x="3.5" y="28.5">Fr</text><text class="m" x="3.5" y="40">Francium</text><text class="w" x="3.5" y="49">(223)</text><text class="sh" x="47.5" y="7.5">2<tspan x="47.5" dy="6.9">8</tspan><tspan x="47.5" dy="6.9">18</tspan><tspan x="47.5" dy="6.9">32</tspan><tspan x="47.5" dy="6.9">18</tspan><tspan x="47.5" dy="6.9">8</tspan><tspan x="47.5" dy="6.9">1</tspan></text></g>
<g id="e88" transform="translate(77.5,333)"><rect class="ae" width="53.5" height="51.5"/><text class="n" x="3.5" y="12.5">88</text><text class="s" x="3.5" y="28.5">Ra</text><text class="m" x="3.5" y="40">Radium</text><text class="w" x="3.5" y="49">(226)</text><text class="sh" x="47.5" y="7.5">2<tspan x="47.5" dy="6.9">8</tspan><tspan x="47.5" dy="6.9">18</tspan><tspan x="47.5" dy="6.9">32</tspan><tspan x="47.5" dy="6.9">18</tspan><tspan x="47.5" dy="6.9">8</tspan><tspan x="47.5" dy="6.9">2</tspan></text></g>
<g id="e104" transform="translate(188.4,333)"><rect class="tm" width="53.5" height="51.5"/><text class="n" x="3.5" y="12.5">104</text><text class="s u" x="3.5" y="28.5">Rf</text><text class="m" x="3.5" y="40" textLength="40" lengthAdjust="spacingAndGlyphs">Rutherfordium</text><text class="w" x="3.5" y="49">(267)</text><text class="sh" x="47.5" y="7.5">2<tspan x="47.5" dy="6.9">8</tspan><tspan x="47.5" dy="6.9">18</tspan><tspan x="47.5" dy="6.9">32</tspan><tspan x="47.5" dy="6.9">32</tspan><tspan x="47.5" dy="6.9">10</tspan><tspan x="47.5" dy="6.9">2</tspan></text></g>
<g id="e105" transform="translate(243.8,333)"><rect class="tm" width="53.5" height="51.5"/><text class="n" x="3.5" y="12.5">105</text><text class="s u" x="3.5" y="28.5">Db</text><text class="m" x="3.5" y="40">Dubnium</text><text class="w" x="3.5" y="49">(268)</text><text class="sh" x="47.5" y="7.5">2<tspan x="47.5" dy="6.9">8</tspan><tspan x="47.5" dy="6.9">18</tspan><tspan x="47.5" dy="6.9">32</tspan><tspan x="47.5" dy="6.9">32</tspan><tspan x="47.5" dy="6.9">11</tspan><tspan x="47.5" dy="6.9">2</tspan></text></g>
<g id="e106" transform="translate(299.3,333)"><rect class="tm" width="53.5" height="51.5"/><text class="n" x="3.5" y="12.5">106</text><text class="s u" x="3.5" y="28.5">Sg</text><text class="m" x="3.5" y="40" textLength="40" lengthAdjust="spacingAndGlyphs">Seaborgium</text><text class="w" x="3.5" y="49">(271)</text><text class="sh" x="47.5" y="7.5">2<tspan x="47.5" dy="6.9">8</tspan><tspan x="47.5" dy="6.9">18</tspan><tspan x="47.5" dy="6.9">32</tspan><tspan x="47.5" dy="6.9">32</tspan><tspan x="47.5" dy="6.9">12</tspan><tspan x="47.5" dy="6.9">2</tspan></text></g>
<g id="e107" transform="translate(354.7,333)"><rect class="tm" width="53.5" height="51.5"/><text class="n" x="3.5" y="12.5">107</text><text class="s u" x="3.5" y="28.5">Bh</text><text class="m" x="3.5" y="40">Bohrium</text><text class="w" x="3.5" y="49">(272)</text><text class="sh" x="47.5" y="7.5">2<tspan x="47.5" dy="6.9">8</tspan><tspan x="47.5" dy="6.9">18</tspan><tspan x="47.5" dy="6.9">32</tspan><tspan x="47.5" dy="6.9">32</tspan><tspan x="47.5" dy="6.9">13</tspan><tspan x="47.5" dy="6.9">2</tspan></text></g>
<g id="e108" transform="translate(410.2,333)"><rect class="tm" width="53.5" height="51.5"/><text class="n" x="3.5" y="12.5">108</text><text class="s u" x="3.5" y="28.5">Hs</text><text class="m" x="3.5" y="40">Hassium</text><text class="w" x="3.5" y="49">(270)</text><text class="sh" x="47.5" y="7.5">2<tspan x="47.5" dy="6.9">8</tspan><tspan x="47.5" dy="6.9">18</tspan><tspan x="47.5" dy="6.9">32</tspan><tspan x="47.5" dy="6.9">32</tspan><tspan x="47.5" dy="6.9">14</tspan><tspan x="47.5" dy="6.9">2</tspan></text></g>
<g id="e109" transform="translate(465.6,333)"><rect class="tm" width="53.5" height="51.5"/><text class="n" x="3.5" y="12.5">109</text><text class="s u" x="3.5" y="28.5">Mt</text><text class="m" x="3.5" y="40" textLength="39" lengthAdjust="spacingAndGlyphs">Meitnerium</text><text class="w" x="3.5" y="49">(276)</text><text class="sh" x="47.5" y="7.5">2<tspan x="47.5" dy="6.9">8</tspan><tspan x="47.5" dy="6.9">18</tspan><tspan x="47.5" dy="6.9">32</tspan><tspan x="47.5" dy="6.9">32</tspan><tspan x="47.5" dy="6.9">15</tspan><tspan x="47.5" dy="6.9">2</tspan></text></g>
<g id="e110" transform="translate(521.1,333)"><rect class="tm" width="53.5" height="51.5"/><text class="n" x="3.5" y="12.5">110</text><text class="s u" x="3.5" y="28.5">Ds</text><text class="m" x="3.5" y="40" textLength="40" lengthAdjust="spacingAndGlyphs">Darmstadtium</text><text class="w" x="3.5" y="49">(281)</text><text class="sh" x="47.5" y="7.5">2<tspan x="47.5" dy="6.9">8</tspan><tspan x="47.5" dy="6.9">18</tspan><tspan x="47.5" dy="6.9">32</tspan><tspan x="47.5" dy="6.9">32</tspan><tspan x="47.5" dy="6.9">17</tspan><tspan x="47.5" dy="6.9">1</tspan></text></g>
<g id="e111" transform="translate(576.5,333)"><rect class="tm" width="53.5" height="51.5"/><text class="n" x="3.5" y="12.5">111</text><text class="s u" x="3.5" y="28.5">Rg</text><text class="m" x="3.5" y="40" textLength="40" lengthAdjust="spacingAndGlyphs">Roentgenium</text><text class="w" x="3.5" y="49">(280)</text><text class="sh" x="47.5" y="7.5">2<tspan x="47.5" dy="6.9">8</tspan><tspan x="47.5" dy="6.9">18</tspan><tspan x="47.5" dy="6.9">32</tspan><tspan x="47.5" dy="6.9">32</tspan><tspan x="47.5" dy="6.9">18</tspan><tspan x="47.5" dy="6.9">1</tspan></text></g>
<g id="e112" transform="translate(632,333)"><rect class="tm" width="53.5" height="51.5"/><text class="n" x="3.5" y="12.5">112</text><text class="s u" x="3.5" y="28.5">Cn</text><text class="m" x="3.5" y="40" textLength="40" lengthAdjust="spacingAndGlyphs">Copernicium</text><text class="w" x="3.5" y="49">(285)</text><text class="sh" x="47.5" y="7.5">2<tspan x="47.5" dy="6.9">8</tspan><tspan x="47.5" dy="6.9">18</tspan><tspan x="47.5" dy="6.9">32</tspan><tspan x="47.5" dy="6.9">32</tspan><tspan x="47.5" dy="6.9">18</tspan><tspan x="47.5" dy="6.9">2</tspan></text></g>
<g id="e113" transform="translate(687.4,333)"><rect class="pt" width="53.5" height="51.5"/><text class="n" x="3.5" y="12.5">113</text><text class="s v" x="3.5" y="28.5">Uut</text><text class="m" x="3.5" y="40" textLength="39" lengthAdjust="spacingAndGlyphs">Ununtrium</text><text class="w" x="3.5" y="49">(284)</text><text class="sh" x="47.5" y="7.5">2<tspan x="47.5" dy="6.9">8</tspan><tspan x="47.5" dy="6.9">18</tspan><tspan x="47.5" dy="6.9">32</tspan><tspan x="47.5" dy="6.9">32</tspan><tspan x="47.5" dy="6.9">18</tspan><tspan x="47.5" dy="6.9">3</tspan></text></g>
<g id="e114" transform="translate(742.9,333)"><rect class="pt" width="53.5" height="51.5"/><text class="n" x="3.5" y="12.5">114</text><text class="s v" x="3.5" y="28.5">Fl</text><text class="m" x="3.5" y="40">Flerovium</text><text class="w" x="3.5" y="49">(289)</text><text class="sh" x="47.5" y="7.5">2<tspan x="47.5" dy="6.9">8</tspan><tspan x="47.5" dy="6.9">18</tspan><tspan x="47.5" dy="6.9">32</tspan><tspan x="47.5" dy="6.9">32</tspan><tspan x="47.5" dy="6.9">18</tspan><tspan x="47.5" dy="6.9">4</tspan></text></g>
<g id="e115" transform="translate(798.3,333)"><rect class="pt" width="53.5" height="51.5"/><text class="n" x="3.5" y="12.5">115</text><text class="s v" x="3.5" y="28.5">Uup</text><text class="m" x="3.5" y="40" textLength="40" lengthAdjust="spacingAndGlyphs">Ununpentium</text><text class="w" x="3.5" y="49">(288)</text><text class="sh" x="47.5" y="7.5">2<tspan x="47.5" dy="6.9">8</tspan><tspan x="47.5" dy="6.9">18</tspan><tspan x="47.5" dy="6.9">32</tspan><tspan x="47.5" dy="6.9">32</tspan><tspan x="47.5" dy="6.9">18</tspan><tspan x="47.5" dy="6.9">5</tspan></text></g>
<g id="e116" transform="translate(853.8,333)"><rect class="pt" width="53.5" height="51.5"/><text class="n" x="3.5" y="12.5">116</text><text class="s v" x="3.5" y="28.5">Lv</text><text class="m" x="3.5" y="40" textLength="40" lengthAdjust="spacingAndGlyphs">Livermorium</text><text class="w" x="3.5" y="49">(293)</text><text class="sh" x="47.5" y="7.5">2<tspan x="47.5" dy="6.9">8</tspan><tspan x="47.5" dy="6.9">18</tspan><tspan x="47.5" dy="6.9">32</tspan><tspan x="47.5" dy="6.9">32</tspan><tspan x="47.5" dy="6.9">18</tspan><tspan x="47.5" dy="6.9">6</tspan></text></g>
<g id="e117" transform="translate(909.2,333)"><rect class="hl" width="53.5" height="51.5"/><text class="n" x="3.5" y="12.5">117</text><text class="s v" x="3.5" y="28.5">Uus</text><text class="m" x="3.5" y="40" textLength="40" lengthAdjust="spacingAndGlyphs">Ununseptium</text><text class="w" x="3.5" y="49">(294)</text><text class="sh" x="47.5" y="7.5">2<tspan x="47.5" dy="6.9">8</tspan><tspan x="47.5" dy="6.9">18</tspan><tspan x="47.5" dy="6.9">32</tspan><tspan x="47.5" dy="6.9">32</tspan><tspan x="47.5" dy="6.9">18</tspan><tspan x="47.5" dy="6.9">7</tspan></text></g>
<g id="e118" transform="translate(964.7,333)"><rect class="ng" width="53.5" height="51.5"/><text class="n" x="3.5" y="12.5">118</text><text class="s v" x="3.5" y="28.5">Uuo</text><text class="m" x="3.5" y="40" textLength="40" lengthAdjust="spacingAndGlyphs">Ununoctium</text><text class="w" x="3.5" y="49">(294)</text><text class="sh" x="47.5" y="7.5">2<tspan x="47.5" dy="6.9">8</tspan><tspan x="47.5" dy="6.9">18</tspan><tspan x="47.5" dy="6.9">32</tspan><tspan x="47.5" dy="6.9">32</tspan><tspan x="47.5" dy="6.9">18</tspan><tspan x="47.5" dy="6.9">8</tspan></text></g>
</g>

<g id="series">
<rect x="131.5" y="279.5" width="53" height="277.5" fill="#ccccff"/>
<rect x="184" y="427.5" width="838" height="23.5" fill="#ccccff"/>
<rect id="lanthanide-range" class="ln" x="133.3" y="281.7" width="49.4" height="49.5"/>
<rect id="actinide-range" class="ac" x="133.3" y="333" width="49.4" height="51.5"/>
<text class="rg" x="158" y="310.5">57–71</text>
<text class="rg" x="158" y="363.5">89–103</text>
<text x="203" y="411.5" style="font-size:13px" textLength="708">For elements with no stable isotopes, the mass number of the isotope with the longest half-life is in parentheses.</text>
<text x="294" y="443" style="font-size:12.5px;fill:#8a8ae6" textLength="614">Periodic Table Design &amp; Interface Copyright © 1997 <tspan style="fill:#2f5fc0;text-decoration:underline">Michael Dayah</tspan>. Ptable.com Last updated Jul 31, 2013</text>
<path class="bl" d="M131.5,557V280H184.5V427.5H1022"/>
<path class="bl" d="M1022,451H185.5V557"/>
</g>

<g id="f-block">
<g id="e57" transform="translate(188.4,452.5)"><rect class="ln" width="53.5" height="51"/><text class="n" x="3.5" y="12.5">57</text><text class="s" x="3.5" y="28.5">La</text><text class="m" x="3.5" y="40" textLength="39" lengthAdjust="spacingAndGlyphs">Lanthanum</text><text class="w" x="3.5" y="49">138.90...</text><text class="sh" x="47.5" y="7.5">2<tspan x="47.5" dy="6.9">8</tspan><tspan x="47.5" dy="6.9">18</tspan><tspan x="47.5" dy="6.9">18</tspan><tspan x="47.5" dy="6.9">9</tspan><tspan x="47.5" dy="6.9">2</tspan></text></g>
<g id="e58" transform="translate(243.8,452.5)"><rect class="ln" width="53.5" height="51"/><text class="n" x="3.5" y="12.5">58</text><text class="s" x="3.5" y="28.5">Ce</text><text class="m" x="3.5" y="40">Cerium</text><text class="w" x="3.5" y="49">140.116</text><text class="sh" x="47.5" y="7.5">2<tspan x="47.5" dy="6.9">8</tspan><tspan x="47.5" dy="6.9">18</tspan><tspan x="47.5" dy="6.9">19</tspan><tspan x="47.5" dy="6.9">9</tspan><tspan x="47.5" dy="6.9">2</tspan></text></g>
<g id="e59" transform="translate(299.3,452.5)"><rect class="ln" width="53.5" height="51"/><text class="n" x="3.5" y="12.5">59</text><text class="s" x="3.5" y="28.5">Pr</text><text class="m" x="3.5" y="40" textLength="40" lengthAdjust="spacingAndGlyphs">Praseodymium</text><text class="w" x="3.5" y="49">140.90...</text><text class="sh" x="47.5" y="7.5">2<tspan x="47.5" dy="6.9">8</tspan><tspan x="47.5" dy="6.9">18</tspan><tspan x="47.5" dy="6.9">21</tspan><tspan x="47.5" dy="6.9">8</tspan><tspan x="47.5" dy="6.9">2</tspan></text></g>
<g id="e60" transform="translate(354.7,452.5)"><rect class="ln" width="53.5" height="51"/><text class="n" x="3.5" y="12.5">60</text><text class="s" x="3.5" y="28.5">Nd</text><text class="m" x="3.5" y="40" textLength="39" lengthAdjust="spacingAndGlyphs">Neodymium</text><text class="w" x="3.5" y="49">144.242</text><text class="sh" x="47.5" y="7.5">2<tspan x="47.5" dy="6.9">8</tspan><tspan x="47.5" dy="6.9">18</tspan><tspan x="47.5" dy="6.9">22</tspan><tspan x="47.5" dy="6.9">8</tspan><tspan x="47.5" dy="6.9">2</tspan></text></g>
<g id="e61" transform="translate(410.2,452.5)"><rect class="ln" width="53.5" height="51"/><text class="n" x="3.5" y="12.5">61</text><text class="s" x="3.5" y="28.5">Pm</text><text class="m" x="3.5" y="40" textLength="40" lengthAdjust="spacingAndGlyphs">Promethium</text><text class="w" x="3.5" y="49">(145)</text><text class="sh" x="47.5" y="7.5">2<tspan x="47.5" dy="6.9">8</tspan><tspan x="47.5" dy="6.9">18</tspan><tspan x="47.5" dy="6.9">23</tspan><tspan x="47.5" dy="6.9">8</tspan><tspan x="47.5" dy="6.9">2</tspan></text></g>
<g id="e62" transform="translate(465.6,452.5)"><rect class="ln" width="53.5" height="51"/><text class="n" x="3.5" y="12.5">62</text><text class="s" x="3.5" y="28.5">Sm</text><text class="m" x="3.5" y="40" textLength="38" lengthAdjust="spacingAndGlyphs">Samarium</text><text class="w" x="3.5" y="49">150.36</text><text class="sh" x="47.5" y="7.5">2<tspan x="47.5" dy="6.9">8</tspan><tspan x="47.5" dy="6.9">18</tspan><tspan x="47.5" dy="6.9">24</tspan><tspan x="47.5" dy="6.9">8</tspan><tspan x="47.5" dy="6.9">2</tspan></text></g>
<g id="e63" transform="translate(521.1,452.5)"><rect class="ln" width="53.5" height="51"/><text class="n" x="3.5" y="12.5">63</text><text class="s" x="3.5" y="28.5">Eu</text><text class="m" x="3.5" y="40">Europium</text><text class="w" x="3.5" y="49">151.964</text><text class="sh" x="47.5" y="7.5">2<tspan x="47.5" dy="6.9">8</tspan><tspan x="47.5" dy="6.9">18</tspan><tspan x="47.5" dy="6.9">25</tspan><tspan x="47.5" dy="6.9">8</tspan><tspan x="47.5" dy="6.9">2</tspan></text></g>
<g id="e64" transform="translate(576.5,452.5)"><rect class="ln" width="53.5" height="51"/><text class="n" x="3.5" y="12.5">64</text><text class="s" x="3.5" y="28.5">Gd</text><text class="m" x="3.5" y="40" textLength="39" lengthAdjust="spacingAndGlyphs">Gadolinium</text><text class="w" x="3.5" y="49">157.25</text><text class="sh" x="47.5" y="7.5">2<tspan x="47.5" dy="6.9">8</tspan><tspan x="47.5" dy="6.9">18</tspan><tspan x="47.5" dy="6.9">25</tspan><tspan x="47.5" dy="6.9">9</tspan><tspan x="47.5" dy="6.9">2</tspan></text></g>
<g id="e65" transform="translate(632,452.5)"><rect class="ln" width="53.5" height="51"/><text class="n" x="3.5" y="12.5">65</text><text class="s" x="3.5" y="28.5">Tb</text><text class="m" x="3.5" y="40">Terbium</text><text class="w" x="3.5" y="49">158.92...</text><text class="sh" x="47.5" y="7.5">2<tspan x="47.5" dy="6.9">8</tspan><tspan x="47.5" dy="6.9">18</tspan><tspan x="47.5" dy="6.9">27</tspan><tspan x="47.5" dy="6.9">8</tspan><tspan x="47.5" dy="6.9">2</tspan></text></g>
<g id="e66" transform="translate(687.4,452.5)"><rect class="ln" width="53.5" height="51"/><text class="n" x="3.5" y="12.5">66</text><text class="s" x="3.5" y="28.5">Dy</text><text class="m" x="3.5" y="40" textLength="39" lengthAdjust="spacingAndGlyphs">Dysprosium</text><text class="w" x="3.5" y="49">162.500</text><text class="sh" x="47.5" y="7.5">2<tspan x="47.5" dy="6.9">8</tspan><tspan x="47.5" dy="6.9">18</tspan><tspan x="47.5" dy="6.9">28</tspan><tspan x="47.5" dy="6.9">8</tspan><tspan x="47.5" dy="6.9">2</tspan></text></g>
<g id="e67" transform="translate(742.9,452.5)"><rect class="ln" width="53.5" height="51"/><text class="n" x="3.5" y="12.5">67</text><text class="s" x="3.5" y="28.5">Ho</text><text class="m" x="3.5" y="40">Holmium</text><text class="w" x="3.5" y="49">164.93...</text><text class="sh" x="47.5" y="7.5">2<tspan x="47.5" dy="6.9">8</tspan><tspan x="47.5" dy="6.9">18</tspan><tspan x="47.5" dy="6.9">29</tspan><tspan x="47.5" dy="6.9">8</tspan><tspan x="47.5" dy="6.9">2</tspan></text></g>
<g id="e68" transform="translate(798.3,452.5)"><rect class="ln" width="53.5" height="51"/><text class="n" x="3.5" y="12.5">68</text><text class="s" x="3.5" y="28.5">Er</text><text class="m" x="3.5" y="40">Erbium</text><text class="w" x="3.5" y="49">167.259</text><text class="sh" x="47.5" y="7.5">2<tspan x="47.5" dy="6.9">8</tspan><tspan x="47.5" dy="6.9">18</tspan><tspan x="47.5" dy="6.9">30</tspan><tspan x="47.5" dy="6.9">8</tspan><tspan x="47.5" dy="6.9">2</tspan></text></g>
<g id="e69" transform="translate(853.8,452.5)"><rect class="ln" width="53.5" height="51"/><text class="n" x="3.5" y="12.5">69</text><text class="s" x="3.5" y="28.5">Tm</text><text class="m" x="3.5" y="40">Thulium</text><text class="w" x="3.5" y="49">168.93...</text><text class="sh" x="47.5" y="7.5">2<tspan x="47.5" dy="6.9">8</tspan><tspan x="47.5" dy="6.9">18</tspan><tspan x="47.5" dy="6.9">31</tspan><tspan x="47.5" dy="6.9">8</tspan><tspan x="47.5" dy="6.9">2</tspan></text></g>
<g id="e70" transform="translate(909.2,452.5)"><rect class="ln" width="53.5" height="51"/><text class="n" x="3.5" y="12.5">70</text><text class="s" x="3.5" y="28.5">Yb</text><text class="m" x="3.5" y="40">Ytterbium</text><text class="w" x="3.5" y="49">173.054</text><text class="sh" x="47.5" y="7.5">2<tspan x="47.5" dy="6.9">8</tspan><tspan x="47.5" dy="6.9">18</tspan><tspan x="47.5" dy="6.9">32</tspan><tspan x="47.5" dy="6.9">8</tspan><tspan x="47.5" dy="6.9">2</tspan></text></g>
<g id="e71" transform="translate(964.7,452.5)"><rect class="ln" width="53.5" height="51"/><text class="n" x="3.5" y="12.5">71</text><text class="s" x="3.5" y="28.5">Lu</text><text class="m" x="3.5" y="40">Lutetium</text><text class="w" x="3.5" y="49">174.9668</text><text class="sh" x="47.5" y="7.5">2<tspan x="47.5" dy="6.9">8</tspan><tspan x="47.5" dy="6.9">18</tspan><tspan x="47.5" dy="6.9">32</tspan><tspan x="47.5" dy="6.9">9</tspan><tspan x="47.5" dy="6.9">2</tspan></text></g>

<g id="e89" transform="translate(188.4,506.5)"><rect class="ac" width="53.5" height="51"/><text class="n" x="3.5" y="12.5">89</text><text class="s" x="3.5" y="28.5">Ac</text><text class="m" x="3.5" y="40">Actinium</text><text class="w" x="3.5" y="49">(227)</text><text class="sh" x="47.5" y="7.5">2<tspan x="47.5" dy="6.9">8</tspan><tspan x="47.5" dy="6.9">18</tspan><tspan x="47.5" dy="6.9">32</tspan><tspan x="47.5" dy="6.9">18</tspan><tspan x="47.5" dy="6.9">9</tspan><tspan x="47.5" dy="6.9">2</tspan></text></g>
<g id="e90" transform="translate(243.8,506.5)"><rect class="ac" width="53.5" height="51"/><text class="n" x="3.5" y="12.5">90</text><text class="s" x="3.5" y="28.5">Th</text><text class="m" x="3.5" y="40">Thorium</text><text class="w" x="3.5" y="49">232.03...</text><text class="sh" x="47.5" y="7.5">2<tspan x="47.5" dy="6.9">8</tspan><tspan x="47.5" dy="6.9">18</tspan><tspan x="47.5" dy="6.9">32</tspan><tspan x="47.5" dy="6.9">18</tspan><tspan x="47.5" dy="6.9">10</tspan><tspan x="47.5" dy="6.9">2</tspan></text></g>
<g id="e91" transform="translate(299.3,506.5)"><rect class="ac" width="53.5" height="51"/><text class="n" x="3.5" y="12.5">91</text><text class="s" x="3.5" y="28.5">Pa</text><text class="m" x="3.5" y="40" textLength="40" lengthAdjust="spacingAndGlyphs">Protactinium</text><text class="w" x="3.5" y="49">231.03...</text><text class="sh" x="47.5" y="7.5">2<tspan x="47.5" dy="6.9">8</tspan><tspan x="47.5" dy="6.9">18</tspan><tspan x="47.5" dy="6.9">32</tspan><tspan x="47.5" dy="6.9">20</tspan><tspan x="47.5" dy="6.9">9</tspan><tspan x="47.5" dy="6.9">2</tspan></text></g>
<g id="e92" transform="translate(354.7,506.5)"><rect class="ac" width="53.5" height="51"/><text class="n" x="3.5" y="12.5">92</text><text class="s" x="3.5" y="28.5">U</text><text class="m" x="3.5" y="40">Uranium</text><text class="w" x="3.5" y="49">238.02...</text><text class="sh" x="47.5" y="7.5">2<tspan x="47.5" dy="6.9">8</tspan><tspan x="47.5" dy="6.9">18</tspan><tspan x="47.5" dy="6.9">32</tspan><tspan x="47.5" dy="6.9">21</tspan><tspan x="47.5" dy="6.9">9</tspan><tspan x="47.5" dy="6.9">2</tspan></text></g>
<g id="e93" transform="translate(410.2,506.5)"><rect class="ac" width="53.5" height="51"/><text class="n" x="3.5" y="12.5">93</text><text class="s" x="3.5" y="28.5">Np</text><text class="m" x="3.5" y="40" textLength="39" lengthAdjust="spacingAndGlyphs">Neptunium</text><text class="w" x="3.5" y="49">(237)</text><text class="sh" x="47.5" y="7.5">2<tspan x="47.5" dy="6.9">8</tspan><tspan x="47.5" dy="6.9">18</tspan><tspan x="47.5" dy="6.9">32</tspan><tspan x="47.5" dy="6.9">22</tspan><tspan x="47.5" dy="6.9">9</tspan><tspan x="47.5" dy="6.9">2</tspan></text></g>
<g id="e94" transform="translate(465.6,506.5)"><rect class="ac" width="53.5" height="51"/><text class="n" x="3.5" y="12.5">94</text><text class="s" x="3.5" y="28.5">Pu</text><text class="m" x="3.5" y="40" textLength="39" lengthAdjust="spacingAndGlyphs">Plutonium</text><text class="w" x="3.5" y="49">(244)</text><text class="sh" x="47.5" y="7.5">2<tspan x="47.5" dy="6.9">8</tspan><tspan x="47.5" dy="6.9">18</tspan><tspan x="47.5" dy="6.9">32</tspan><tspan x="47.5" dy="6.9">24</tspan><tspan x="47.5" dy="6.9">8</tspan><tspan x="47.5" dy="6.9">2</tspan></text></g>
<g id="e95" transform="translate(521.1,506.5)"><rect class="ac" width="53.5" height="51"/><text class="n" x="3.5" y="12.5">95</text><text class="s" x="3.5" y="28.5">Am</text><text class="m" x="3.5" y="40" textLength="38" lengthAdjust="spacingAndGlyphs">Americium</text><text class="w" x="3.5" y="49">(243)</text><text class="sh" x="47.5" y="7.5">2<tspan x="47.5" dy="6.9">8</tspan><tspan x="47.5" dy="6.9">18</tspan><tspan x="47.5" dy="6.9">32</tspan><tspan x="47.5" dy="6.9">25</tspan><tspan x="47.5" dy="6.9">8</tspan><tspan x="47.5" dy="6.9">2</tspan></text></g>
<g id="e96" transform="translate(576.5,506.5)"><rect class="ac" width="53.5" height="51"/><text class="n" x="3.5" y="12.5">96</text><text class="s" x="3.5" y="28.5">Cm</text><text class="m" x="3.5" y="40">Curium</text><text class="w" x="3.5" y="49">(247)</text><text class="sh" x="47.5" y="7.5">2<tspan x="47.5" dy="6.9">8</tspan><tspan x="47.5" dy="6.9">18</tspan><tspan x="47.5" dy="6.9">32</tspan><tspan x="47.5" dy="6.9">25</tspan><tspan x="47.5" dy="6.9">9</tspan><tspan x="47.5" dy="6.9">2</tspan></text></g>
<g id="e97" transform="translate(632,506.5)"><rect class="ac" width="53.5" height="51"/><text class="n" x="3.5" y="12.5">97</text><text class="s" x="3.5" y="28.5">Bk</text><text class="m" x="3.5" y="40" textLength="39" lengthAdjust="spacingAndGlyphs">Berkelium</text><text class="w" x="3.5" y="49">(247)</text><text class="sh" x="47.5" y="7.5">2<tspan x="47.5" dy="6.9">8</tspan><tspan x="47.5" dy="6.9">18</tspan><tspan x="47.5" dy="6.9">32</tspan><tspan x="47.5" dy="6.9">27</tspan><tspan x="47.5" dy="6.9">8</tspan><tspan x="47.5" dy="6.9">2</tspan></text></g>
<g id="e98" transform="translate(687.4,506.5)"><rect class="ac" width="53.5" height="51"/><text class="n" x="3.5" y="12.5">98</text><text class="s" x="3.5" y="28.5">Cf</text><text class="m" x="3.5" y="40" textLength="39" lengthAdjust="spacingAndGlyphs">Californium</text><text class="w" x="3.5" y="49">(251)</text><text class="sh" x="47.5" y="7.5">2<tspan x="47.5" dy="6.9">8</tspan><tspan x="47.5" dy="6.9">18</tspan><tspan x="47.5" dy="6.9">32</tspan><tspan x="47.5" dy="6.9">28</tspan><tspan x="47.5" dy="6.9">8</tspan><tspan x="47.5" dy="6.9">2</tspan></text></g>
<g id="e99" transform="translate(742.9,506.5)"><rect class="ac" width="53.5" height="51"/><text class="n" x="3.5" y="12.5">99</text><text class="s" x="3.5" y="28.5">Es</text><text class="m" x="3.5" y="40" textLength="39" lengthAdjust="spacingAndGlyphs">Einsteinium</text><text class="w" x="3.5" y="49">(252)</text><text class="sh" x="47.5" y="7.5">2<tspan x="47.5" dy="6.9">8</tspan><tspan x="47.5" dy="6.9">18</tspan><tspan x="47.5" dy="6.9">32</tspan><tspan x="47.5" dy="6.9">29</tspan><tspan x="47.5" dy="6.9">8</tspan><tspan x="47.5" dy="6.9">2</tspan></text></g>
<g id="e100" transform="translate(798.3,506.5)"><rect class="ac" width="53.5" height="51"/><text class="n" x="3.5" y="12.5">100</text><text class="s" x="3.5" y="28.5">Fm</text><text class="m" x="3.5" y="40">Fermium</text><text class="w" x="3.5" y="49">(257)</text><text class="sh" x="47.5" y="7.5">2<tspan x="47.5" dy="6.9">8</tspan><tspan x="47.5" dy="6.9">18</tspan><tspan x="47.5" dy="6.9">32</tspan><tspan x="47.5" dy="6.9">30</tspan><tspan x="47.5" dy="6.9">8</tspan><tspan x="47.5" dy="6.9">2</tspan></text></g>
<g id="e101" transform="translate(853.8,506.5)"><rect class="ac" width="53.5" height="51"/><text class="n" x="3.5" y="12.5">101</text><text class="s" x="3.5" y="28.5">Md</text><text class="m" x="3.5" y="40" textLength="40" lengthAdjust="spacingAndGlyphs">Mendelevium</text><text class="w" x="3.5" y="49">(258)</text><text class="sh" x="47.5" y="7.5">2<tspan x="47.5" dy="6.9">8</tspan><tspan x="47.5" dy="6.9">18</tspan><tspan x="47.5" dy="6.9">32</tspan><tspan x="47.5" dy="6.9">31</tspan><tspan x="47.5" dy="6.9">8</tspan><tspan x="47.5" dy="6.9">2</tspan></text></g>
<g id="e102" transform="translate(909.2,506.5)"><rect class="ac" width="53.5" height="51"/><text class="n" x="3.5" y="12.5">102</text><text class="s" x="3.5" y="28.5">No</text><text class="m" x="3.5" y="40">Nobelium</text><text class="w" x="3.5" y="49">(259)</text><text class="sh" x="47.5" y="7.5">2<tspan x="47.5" dy="6.9">8</tspan><tspan x="47.5" dy="6.9">18</tspan><tspan x="47.5" dy="6.9">32</tspan><tspan x="47.5" dy="6.9">32</tspan><tspan x="47.5" dy="6.9">8</tspan><tspan x="47.5" dy="6.9">2</tspan></text></g>
<g id="e103" transform="translate(964.7,506.5)"><rect class="ac" width="53.5" height="51"/><text class="n" x="3.5" y="12.5">103</text><text class="s" x="3.5" y="28.5">Lr</text><text class="m" x="3.5" y="40" textLength="40" lengthAdjust="spacingAndGlyphs">Lawrencium</text><text class="w" x="3.5" y="49">(262)</text><text class="sh" x="47.5" y="7.5">2<tspan x="47.5" dy="6.9">8</tspan><tspan x="47.5" dy="6.9">18</tspan><tspan x="47.5" dy="6.9">32</tspan><tspan x="47.5" dy="6.9">32</tspan><tspan x="47.5" dy="6.9">8</tspan><tspan x="47.5" dy="6.9">3</tspan></text></g>
</g>

<g id="connectors">
<polygon points="250,39.4 603.25,305.25 175,140" fill="#285aad" fill-opacity="0.5"/>
</g>

<g id="e79" transform="translate(576.5,279.5)"><rect class="tm" width="53.5" height="51.5"/><text class="n" x="3.5" y="12.5">79</text><text class="s" x="3.5" y="28.5">Au</text><text class="m" x="3.5" y="40">Gold</text><text class="w" x="3.5" y="49">196.96...</text><text class="sh" x="47.5" y="7.5">2<tspan x="47.5" dy="6.9">8</tspan><tspan x="47.5" dy="6.9">18</tspan><tspan x="47.5" dy="6.9">32</tspan><tspan x="47.5" dy="6.9">18</tspan><tspan x="47.5" dy="6.9">1</tspan></text><rect x="-1.5" y="-1" width="56.5" height="54" fill="none" stroke="#9a9a9a" stroke-width="2.2"/></g>

<g id="magnifier">
<rect x="146" y="26" width="123" height="120" fill="#fff"/>
<rect x="147" y="143" width="121" height="2.5" fill="#dedede"/>
<rect class="tm" x="147" y="27" width="114" height="113.5"/>
<text x="153" y="52.5" style="font-size:21px">79</text>
<text x="153" y="88" style="font-size:32px;font-weight:bold">Au</text>
<text x="153" y="111" style="font-size:15px">Gold</text>
<text x="153" y="130" style="font-size:15px">196.966569</text>
<text x="253" y="45" style="font-size:12px;text-anchor:middle">2<tspan x="253" y="57.5">8</tspan><tspan x="253" y="73">18</tspan><tspan x="253" y="87">32</tspan><tspan x="253" y="101.5">18</tspan><tspan x="253" y="118">1</tspan></text>
</g>
</svg>
